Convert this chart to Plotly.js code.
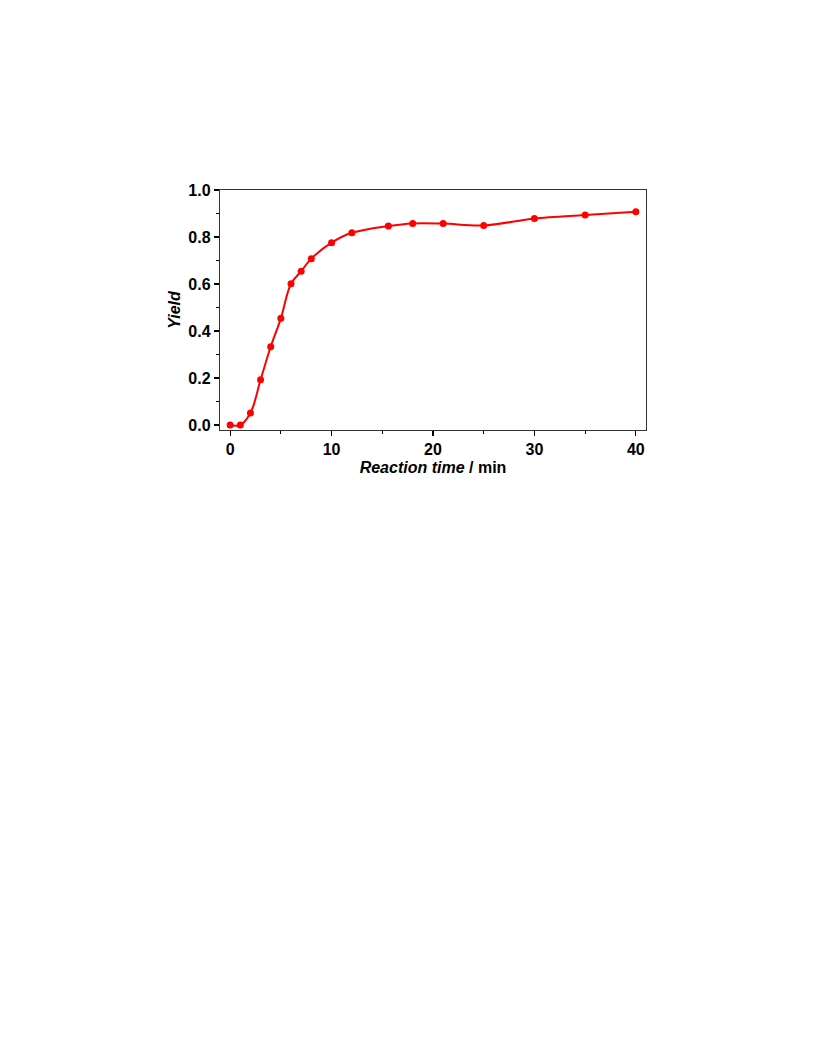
<!DOCTYPE html>
<html>
<head>
<meta charset="utf-8">
<script src="https://cdn.plot.ly/plotly-3.0.1.min.js"></script>
<style>html,body{margin:0;padding:0;background:#fff;}#chart{width:816px;height:1056px;}</style>
</head>
<body>
<div id="chart"></div>
<script>
const time = [0, 1, 2, 3, 4, 5, 6, 7, 8, 10, 12, 15.6, 18, 21, 25, 30, 35, 40];
const yieldVals = [0, 0, 0.051, 0.193, 0.333, 0.454, 0.601, 0.654, 0.708, 0.776, 0.818, 0.847, 0.858, 0.857, 0.849, 0.879, 0.894, 0.908];
const xTicks = [0, 10, 20, 30, 40];
const yTicks = [0, 0.2, 0.4, 0.6, 0.8, 1.0];
const yTickText = ['0.0', '0.2', '0.4', '0.6', '0.8', '1.0'];

const fam = 'Liberation Sans, Arial, sans-serif';

Plotly.newPlot('chart', [{
  x: time,
  y: yieldVals,
  mode: 'lines+markers',
  line: {color: '#ff0000', width: 2, shape: 'spline', smoothing: 1.0},
  marker: {color: '#ff0000', size: 7},
  showlegend: false
}], {
  width: 816, height: 1056,
  margin: {l: 220, t: 190, r: 170, b: 626, pad: 0},
  paper_bgcolor: '#fff', plot_bgcolor: '#fff',
  font: {family: fam, size: 16, color: '#000'},
  xaxis: {
    range: [-1, 41], tickvals: xTicks,
    ticks: 'outside', ticklen: 5, tickwidth: 1.2, tickcolor: '#000',
    minor: {tickvals: [5, 15, 25, 35], ticks: 'outside', ticklen: 3, tickwidth: 1, tickcolor: '#000'},
    showline: true, linecolor: '#333', linewidth: 1.2, mirror: true,
    showgrid: false, zeroline: false,
    tickfont: {family: fam, size: 16, color: '#000', weight: 'bold'},
    title: {text: '<b><i>Reaction time</i> / min</b>', font: {family: fam, size: 16, color: '#000'}, standoff: 4}
  },
  yaxis: {
    range: [-0.021, 1.0], tickvals: yTicks, ticktext: yTickText,
    ticks: 'outside', ticklen: 5, tickwidth: 1.2, tickcolor: '#000',
    minor: {tickvals: [0.1, 0.3, 0.5, 0.7, 0.9], ticks: 'outside', ticklen: 3, tickwidth: 1, tickcolor: '#000'},
    showline: true, linecolor: '#333', linewidth: 1.2, mirror: true,
    showgrid: false, zeroline: false,
    tickfont: {family: fam, size: 16, color: '#000', weight: 'bold'},
    title: {text: '<b><i>Yield</i></b>', font: {family: fam, size: 16, color: '#000'}, standoff: 3}
  }
}, {displayModeBar: false, staticPlot: true});
</script>
</body>
</html>
